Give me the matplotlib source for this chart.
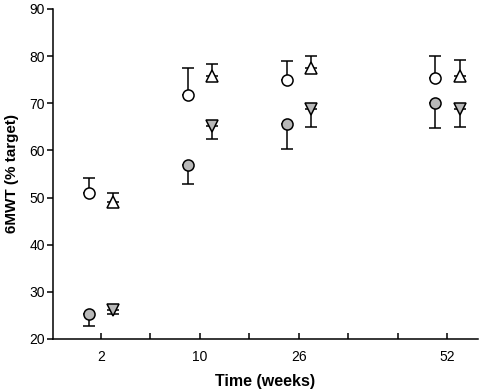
import matplotlib
matplotlib.use("Agg")
import matplotlib.pyplot as plt
import numpy as np

plt.rcParams['font.family'] = ['Liberation Sans', 'DejaVu Sans']

weeks = [2, 10, 26, 52]
# ordinal axis slot of each week (axis has 8 evenly spaced ticks)
week_slot = [1, 3, 5, 8]

open_circle = [51.0, 71.8, 74.9, 75.4]
open_circle_err = [3.2, 5.6, 4.1, 4.6]          # upper only
grey_circle = [25.3, 57.0, 65.5, 70.0]
grey_circle_err = [2.5, 4.1, 5.2, 5.2]           # lower only
open_tri = [49.1, 75.8, 77.4, 75.7]
open_tri_err = [1.9, 2.5, 2.7, 3.4]              # upper only
grey_tri = [26.2, 65.2, 68.7, 68.7]
grey_tri_err = [1.0, 2.8, 3.7, 3.8]              # lower only

fig = plt.figure(figsize=(4.79, 3.91), dpi=100)
ax = fig.add_axes([0.1106, 0.133, 0.8874, 0.844])

x = np.array(week_slot, dtype=float)
off = 0.25
grey = '#b8b8b8'
lw = 1.1
ms = 8

def series(xs, y, err, upper, marker, face):
    z = np.zeros(len(err))
    yerr = [z, err] if upper else [err, z]
    ax.errorbar(xs, y, yerr=yerr, fmt='none', ecolor='black', elinewidth=lw,
                capsize=4, capthick=lw, zorder=2)
    ax.plot(xs, y, linestyle='none', marker=marker, markersize=ms,
            markerfacecolor=face, markeredgecolor='black', markeredgewidth=lw, zorder=3)

series(x - off, open_circle, open_circle_err, True, 'o', 'white')
series(x - off, grey_circle, grey_circle_err, False, 'o', grey)
series(x + off, open_tri, open_tri_err, True, '^', 'white')
series(x + off, grey_tri, grey_tri_err, False, 'v', grey)

ax.set_ylim(20, 90)
ax.set_xlim(0.03, 8.62)
ax.set_yticks(np.arange(20, 91, 10))
ax.set_xticks(np.arange(1, 9))
labels = [''] * 8
for s, w in zip(week_slot, weeks):
    labels[s - 1] = str(w)
ax.set_xticklabels(labels)

ax.spines['top'].set_visible(False)
ax.spines['right'].set_visible(False)
for sp in ['left', 'bottom']:
    ax.spines[sp].set_linewidth(lw)
ax.tick_params(axis='y', direction='out', length=4, width=lw, labelsize=10, pad=2)
ax.tick_params(axis='x', direction='in', length=4, width=lw, labelsize=10, pad=8)

ax.set_xlabel('Time (weeks)', fontsize=11.5, fontweight='bold', labelpad=7)
ax.set_ylabel('6MWT (% target)', fontsize=11, fontweight='bold', labelpad=7)

fig.savefig('out.png', dpi=100)
